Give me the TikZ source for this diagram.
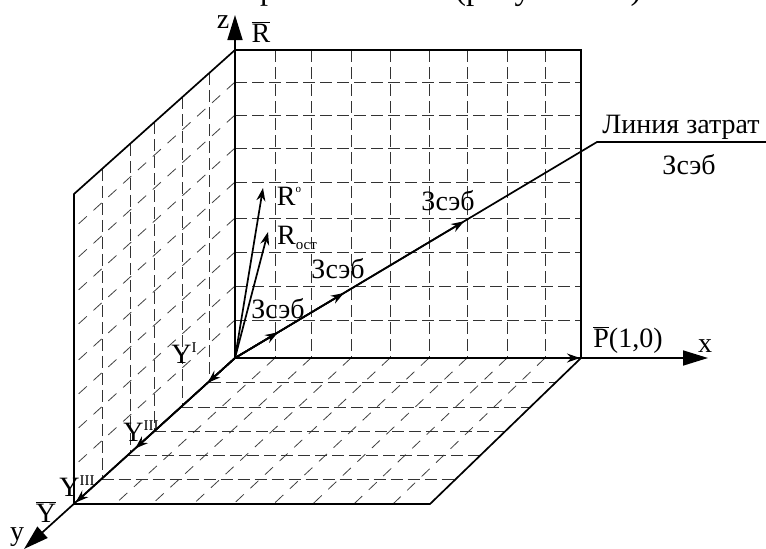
\documentclass[tikz,border=0pt]{standalone}
\usepackage{xcolor}
\usepackage{fontspec}
\setmainfont{Liberation Serif}
\usetikzlibrary{arrows.meta, positioning, calc}
\begin{document}
\begin{tikzpicture}[x=1pt, y=-1pt,
    wall/.style={line width=1.7pt},
    axis/.style={line width=1.7pt, -{Triangle[length=25pt, width=15pt]}},
    gridline/.style={line width=0.9pt, dash pattern=on 12pt off 5pt, black!80},
    griddiag/.style={line width=0.8pt, dash pattern=on 11pt off 9pt, black!75},
    tip/.style={-{Stealth[length=13pt, width=9pt]}},
    lbl/.style={inner sep=0pt, font=\fontsize{28}{30}\selectfont},
    idx/.style={font=\fontsize{15}{15}\selectfont}]
    \useasboundingbox (0,0) rectangle (766,549);
    \clip (0,0) rectangle (766,549);
    % corners
    \coordinate (o) at (235,358);
    \coordinate (top) at (235,50);
    \coordinate (topr) at (581,50);
    \coordinate (p) at (581,358);
    \coordinate (yf) at (74,504);
    \coordinate (yt) at (74,194);
    \coordinate (fr) at (430,504);
    \coordinate (zend) at (235,15);
    \coordinate (xend) at (708,358);
    \coordinate (yend) at (24,549);
    \coordinate (bend) at (597,142);
    \coordinate (lend) at (766,142);
    \coordinate (ro end) at (263,188);
    \coordinate (rost end) at (268,232);
    % grid
    \foreach \gx in {275,311,351,390,429,467,507,545} {
        \draw[gridline] (\gx,50) -- (\gx,358);
        \draw[griddiag] (\gx,358) -- ({74+(\gx-235)*1.029},504);
    }
    \foreach \gy in {82,115,148,182,218,252,286,320} {
        \draw[gridline] (235,\gy) -- (581,\gy);
        \draw[griddiag] (235,\gy) -- (74,\gy+146);
    }
    \foreach \gx in {209,182,154,130,102}
        \draw[gridline] (\gx,{50+(235-\gx)*0.894}) -- (\gx,{358+(235-\gx)*0.907});
    \foreach \gy in {382,407,431,455,479}
        \draw[gridline] ({235-(\gy-358)*1.103},\gy) -- ({581-(\gy-358)*1.034},\gy);
    % walls
    \draw[wall] (top) -- (topr) -- (p) -- (fr) -- (yf) -- (yt) -- (top);
    \draw[axis] (o) -- (zend);
    \draw[axis] (o) -- (xend);
    \draw[axis] (o) -- (yend);
    % vectors
    \draw[wall, tip] (o) -- (ro end);
    \draw[wall, tip] (o) -- (rost end);
    \foreach \t in {0.17,0.62,0.99}
        \draw[wall, tip] (o) -- ($(o)!\t!(yf)$);
    \draw[wall, tip] (o) -- ($(o)!0.997!(p)$);
    \foreach \t in {0.119,0.301,0.633}
        \draw[wall, tip] (o) -- ($(o)!\t!(bend)$);
    \draw[wall] (o) -- (bend) -- (lend);
    % labels
    \node[lbl, anchor=base] (cap1) at (268,-1) {\fontsize{32}{34}\selectfont р};
    \node[lbl, anchor=base west] (cap2) at (455,-1) {\fontsize{33}{34}\selectfont (рисунок 1.1)};
    \node[lbl] (z) at (223,22) {z};
    \node[lbl] (rbar) at (261,32) {$\overline{\mathrm{R}}$};
    \node[lbl] (ro) at (289,196) {R\raisebox{13pt}{\fontsize{11}{11}\selectfont o}};
    \node[lbl] (rost) at (297,238) {R\raisebox{-5pt}{\fontsize{15}{15}\selectfont ост}};
    \node[lbl] (z1) at (278,309) {Зсэб};
    \node[lbl] (z2) at (338,269) {Зсэб};
    \node[lbl] (z3) at (448,201) {Зсэб};
    \node[lbl] (z4) at (689,165) {Зсэб};
    \node[lbl] (line) at (681,127) {Линия затрат};
    \node[lbl] (y1) at (184,353) {Y\raisebox{11pt}{\fontsize{15}{15}\selectfont I}};
    \node[lbl] (y2) at (141,431) {Y\raisebox{11pt}{\fontsize{15}{15}\selectfont III}};
    \node[lbl] (y3) at (77,486) {Y\raisebox{11pt}{\fontsize{15}{15}\selectfont III}};
    \node[lbl] (ybar) at (46,512) {$\overline{\mathrm{Y}}$};
    \node[lbl] (yl) at (17,537) {y};
    \node[lbl] (xl) at (705,346) {x};
    \node[lbl] (pl) at (628,340) {$\overline{\mathrm{P}}$(1,0)};
\end{tikzpicture}
\end{document}
